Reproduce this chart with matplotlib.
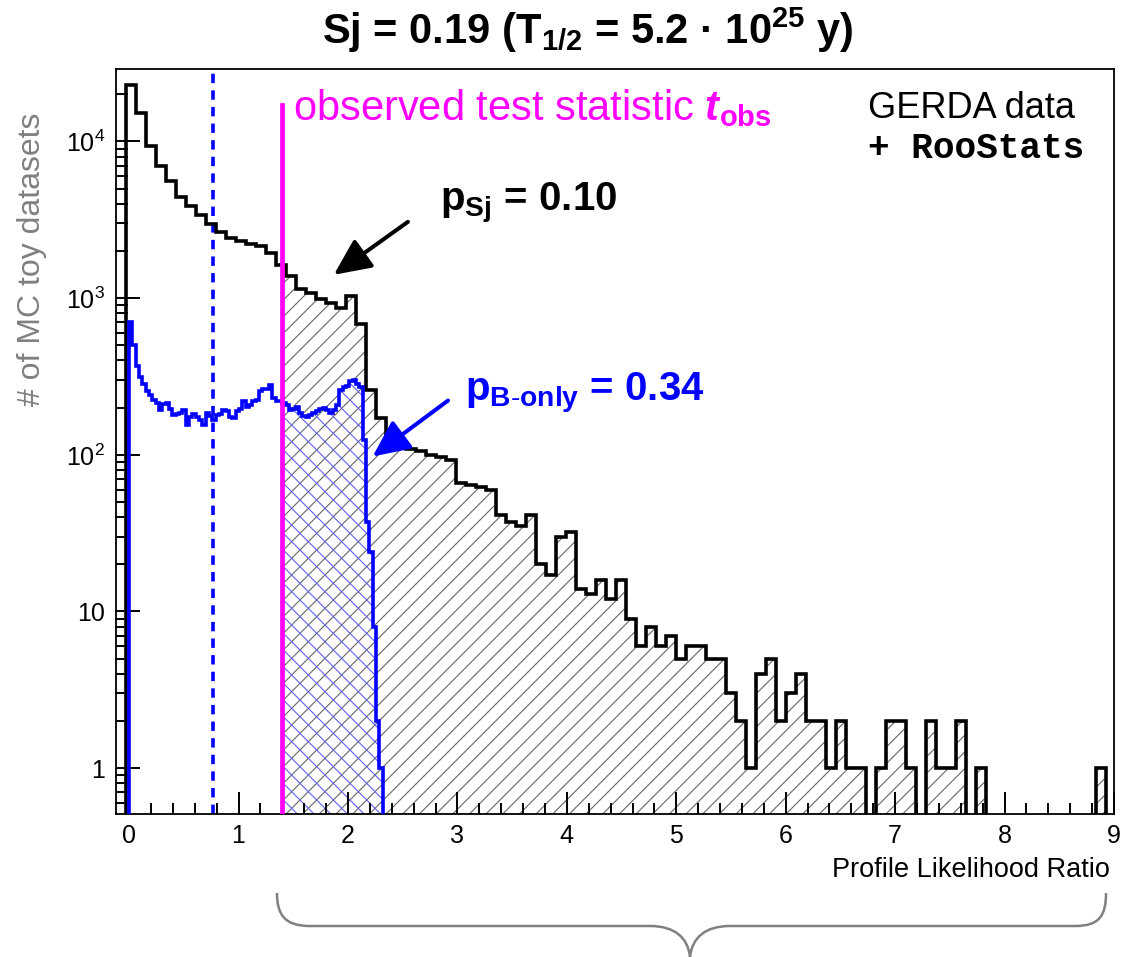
import matplotlib
matplotlib.use('Agg')
import matplotlib.pyplot as plt
import numpy as np
from matplotlib.path import Path
from matplotlib.patches import PathPatch
from matplotlib.ticker import FixedLocator, FixedFormatter, LogLocator, MultipleLocator, NullFormatter

plt.rcParams['font.family'] = ['Liberation Sans', 'DejaVu Sans']
plt.rcParams['mathtext.fontset'] = 'custom'
plt.rcParams['mathtext.rm'] = 'Liberation Sans'
plt.rcParams['mathtext.it'] = 'Liberation Sans:italic'
plt.rcParams['mathtext.bf'] = 'Liberation Sans:bold'
plt.rcParams['mathtext.bfit'] = 'Liberation Sans:bold:italic'
plt.rcParams['hatch.linewidth'] = 0.8

# toy MC distribution of the profile likelihood ratio, signal hypothesis Sj
sb_start = -0.03
sb_width = 0.0914
counts_sb = [23000, 15200, 9400, 7000, 5600, 4400, 3850, 3400, 2970, 2640,
             2420, 2300, 2220, 2140, 1940, 1630, 1375, 1140, 1075, 985,
             930, 865, 1035, 686, 260, 171, 119, 113, 109, 105,
             100, 97, 92, 66, 64, 62, 60, 41, 37, 35,
             41, 20, 17, 30, 32, 14, 13, 16, 12, 16,
             9, 6, 8, 6, 7, 5, 6, 6, 5, 5,
             3, 2, 1, 4, 5, 2, 3, 4, 2, 2,
             1, 2, 1, 1, 0, 1, 2, 2, 1, 0,
             2, 1, 1, 2, 0, 1, 0, 0, 0, 0,
             0, 0, 0, 0, 0, 0, 0, 1, 0]

# background-only toys, finer binning
b_start = 0.0
b_width = sb_width / 3
counts_b = [700, 500, 370, 315, 285, 254, 241, 224, 214, 194,
            210, 214, 196, 180, 182, 185, 194, 155, 175, 183,
            174, 167, 155, 186, 177, 167, 180, 183, 194, 191,
            174, 171, 189, 196, 219, 203, 208, 219, 224, 257,
            263, 263, 280, 230, 222, 219, 214, 208, 194, 196,
            203, 185, 176, 174, 180, 185, 189, 196, 199, 194,
            185, 194, 208, 260, 270, 273, 298, 301, 285, 270,
            125, 37, 24, 8, 2, 1]

t_obs = 1.40
t_median_b = 0.77

y_ticks = [1, 10, 100, 1000, 10000]
y_tick_labels = ['1', '10', r'$10^{2}$', r'$10^{3}$', r'$10^{4}$']

floor = 1e-2  # empty bins are drawn below the axis


def tail(edges, vals, t):
    i = np.searchsorted(edges, t) - 1
    x = np.concatenate([[t], edges[i + 1:]])
    y = np.append(vals[i:], vals[-1])
    return x, y


sb = np.array(counts_sb, dtype=float)
sb[sb <= 0] = floor
b = np.array(counts_b, dtype=float)
b[b <= 0] = floor
edges_sb = sb_start + sb_width * np.arange(len(sb) + 1)
edges_b = b_start + b_width * np.arange(len(b) + 1)

W, H = 1131, 957
fig = plt.figure(figsize=(W / 100, H / 100), dpi=100)
ax = fig.add_axes([116 / W, 1 - 814 / H, 998 / W, 745 / H])

# hatched p-value regions
xs, ys = tail(edges_sb, sb, t_obs)
ax.fill_between(xs, ys, floor, step='post', facecolor='none', edgecolor='0.4',
                hatch='//', linewidth=0, zorder=1)
xb, yb = tail(edges_b, b, t_obs)
ax.fill_between(xb, yb, floor, step='post', facecolor='none', edgecolor='#6060ff',
                hatch='\\\\', linewidth=0, zorder=1)

ax.stairs(sb, edges_sb, baseline=floor, color='black', lw=2.6, zorder=3)
ax.stairs(b, edges_b, baseline=floor, color='#0000ff', lw=2.6, zorder=4)

ax.axvline(t_median_b, color='#0000ff', lw=2.6, ls=(0, (2.6, 2.0)), zorder=2)
ax.axvline(t_obs, ymax=(814 - 105) / 745, color='#ff00ff', lw=3.4, zorder=5)

ax.set_yscale('log')
ax.set_xlim(-0.12, 9.0)
ax.set_ylim(0.51, 2.9e4)

ax.xaxis.set_major_locator(MultipleLocator(1))
ax.xaxis.set_minor_locator(MultipleLocator(0.2))
ax.yaxis.set_major_locator(FixedLocator(y_ticks))
ax.yaxis.set_major_formatter(FixedFormatter(y_tick_labels))
ax.yaxis.set_minor_locator(LogLocator(subs=np.arange(2, 10)))
ax.yaxis.set_minor_formatter(NullFormatter())

ax.tick_params(axis='x', which='major', direction='in', length=15.5, width=1.4,
               labelsize=18, pad=7, top=False)
ax.tick_params(axis='x', which='minor', direction='in', length=7.8, width=1.4, top=False)
ax.tick_params(axis='y', which='major', direction='in', length=17, width=1.4,
               labelsize=18, pad=8, right=False)
ax.tick_params(axis='y', which='minor', direction='in', length=8.6, width=1.4, right=False)
for s in ax.spines.values():
    s.set_linewidth(1.3)

fig.text(1110 / W, 1 - 877 / H, 'Profile Likelihood Ratio', fontsize=19.5,
         ha='right', va='baseline')
fig.text(32 / W, 1 - 259 / H, '# of MC toy datasets', fontsize=23, color='#808080',
         rotation=90, ha='center', va='center')

fig.text(588 / W, 1 - 44 / H,
         r'Sj = 0.19 (T$_{\mathbf{1/2}}$ = 5.2 · 10$^{\mathbf{25}}$ y)',
         fontsize=30, weight='bold', ha='center', va='baseline')

ax.text((293 - 116) / 998, (814 - 120) / 745,
        r'observed test statistic $\mathbfit{t}_{\mathbf{obs}}$',
        transform=ax.transAxes, fontsize=30, color='#ff00ff', va='baseline')
ax.text((868 - 116) / 998, (814 - 118) / 745, 'GERDA data',
        transform=ax.transAxes, fontsize=26, va='baseline')
ax.text((868 - 116) / 998, (814 - 158) / 745, '+ RooStats', family='Liberation Mono',
        weight='bold', transform=ax.transAxes, fontsize=26, va='baseline')
ax.text((440 - 116) / 998, (814 - 210) / 745, r'p$_{\mathbf{Sj}}$ = 0.10',
        transform=ax.transAxes, fontsize=29, weight='bold', va='baseline')
ax.text((465 - 116) / 998, (814 - 400) / 745, r'p$_{\mathbf{B\text{-}only}}$ = 0.34',
        transform=ax.transAxes, fontsize=29, weight='bold', color='#0000ff',
        va='baseline')

arrow = dict(arrowstyle='-|>,head_length=1.5,head_width=0.7', mutation_scale=15,
             lw=2.9, shrinkA=0, shrinkB=0)
ax.annotate('', xy=(1.871, 1410), xytext=(2.548, 3069),
            arrowprops=dict(arrow, color='black'), zorder=6)
ax.annotate('', xy=(2.225, 97.5), xytext=(2.914, 222),
            arrowprops=dict(arrow, color='#0000ff'), zorder=6)

# curly brace under the p-value range
brace_px = [(277, 893), (277, 915), (285, 926), (310, 926), (650, 926),
            (675, 926), (688, 938), (690, 957), (692, 938), (705, 926),
            (730, 926), (1075, 926), (1100, 926), (1106, 915), (1106, 893)]
codes = [Path.MOVETO, Path.CURVE4, Path.CURVE4, Path.CURVE4, Path.LINETO,
         Path.CURVE4, Path.CURVE4, Path.CURVE4, Path.CURVE4, Path.CURVE4,
         Path.CURVE4, Path.LINETO, Path.CURVE4, Path.CURVE4, Path.CURVE4]
verts = [(px / W, 1 - py / H) for px, py in brace_px]
fig.patches.append(PathPatch(Path(verts, codes), transform=fig.transFigure,
                             facecolor='none', edgecolor='#808080', lw=1.8))

fig.savefig('out.png', dpi=100)
